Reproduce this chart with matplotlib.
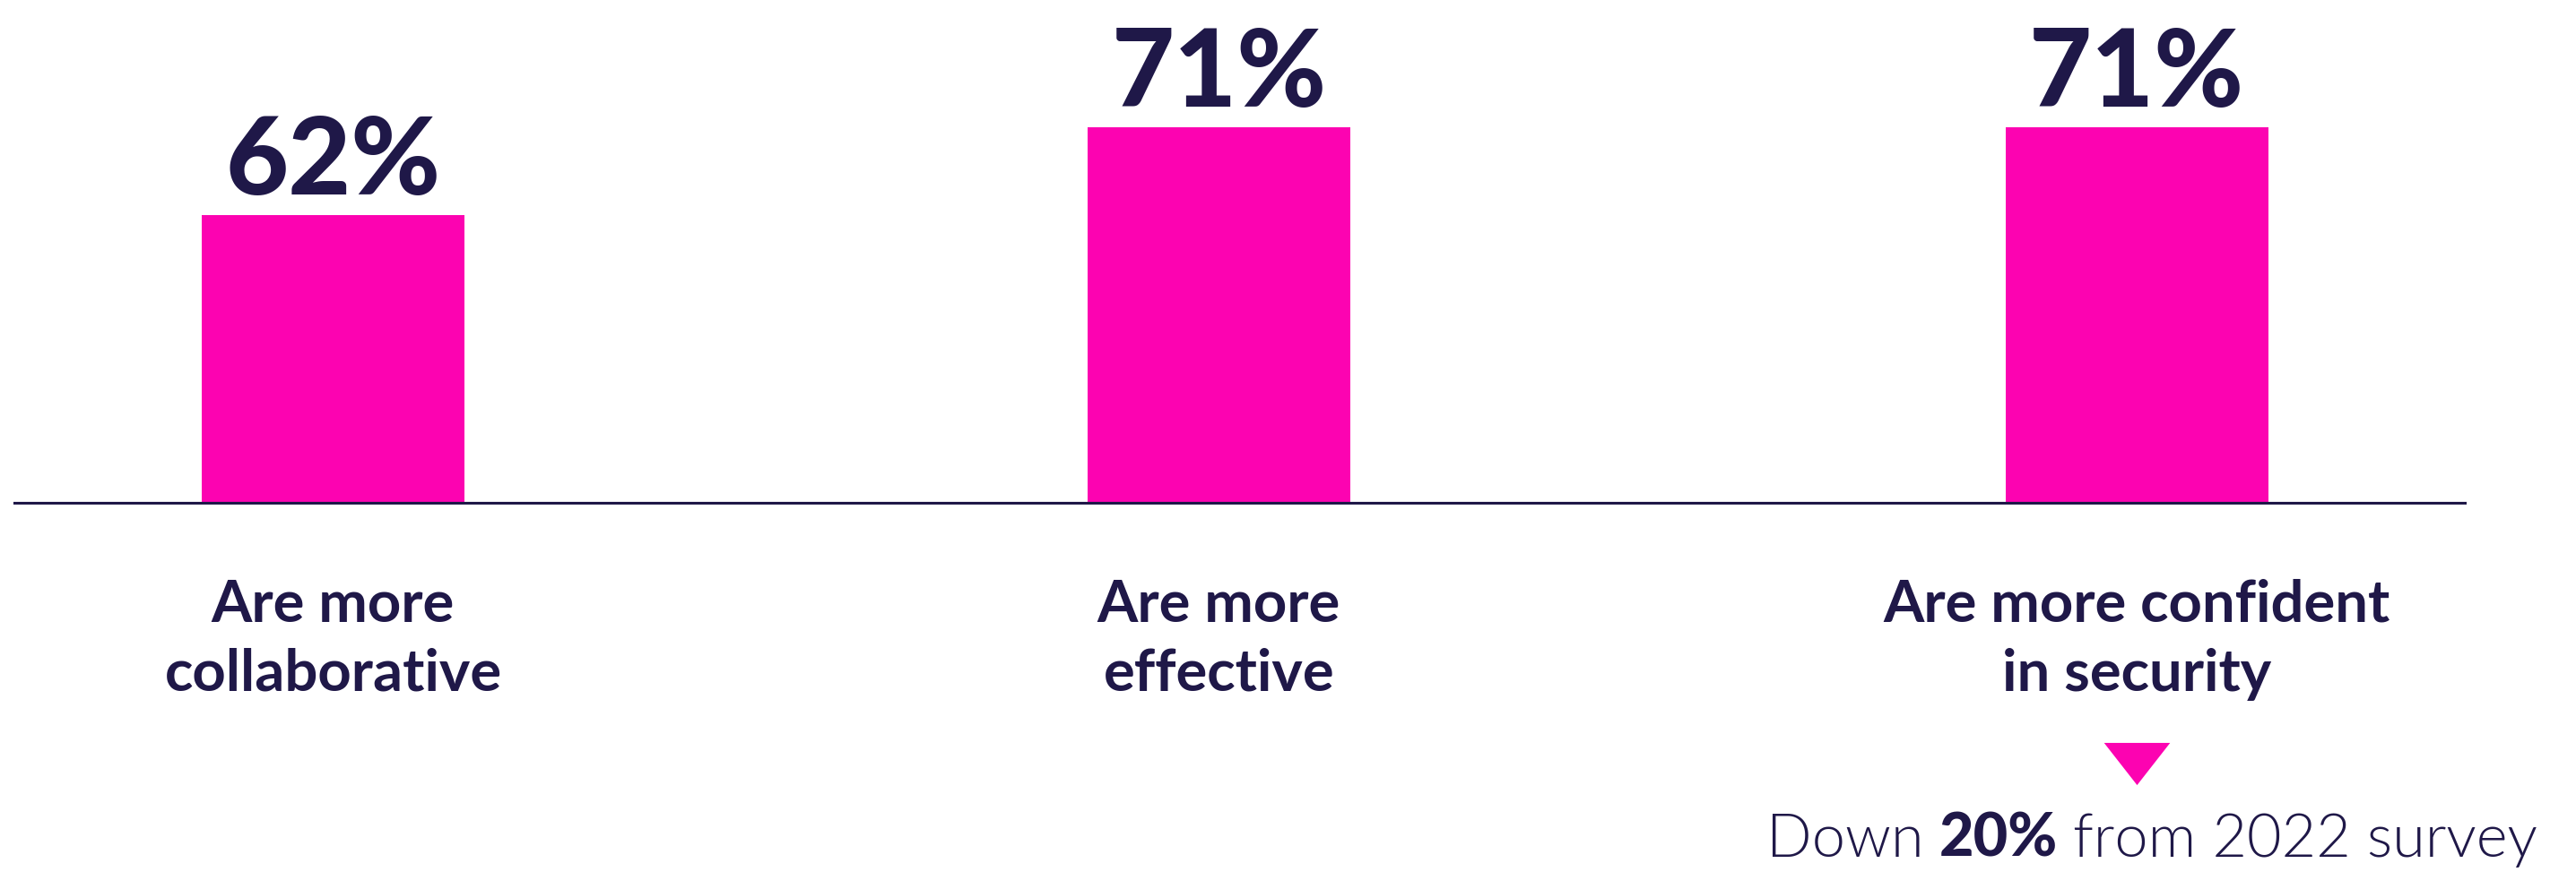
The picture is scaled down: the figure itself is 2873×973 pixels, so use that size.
import matplotlib
matplotlib.use('Agg')
import matplotlib.pyplot as plt
from matplotlib.offsetbox import TextArea, HPacker, AnnotationBbox

#  Chart data.
categories = ['Are more\ncollaborative', 'Are more\neffective', 'Are more confident\nin security']
shares = [62, 71, 71]
note_parts = ['Down', '20%', 'from 2022 survey']

#  Colours, font and bar slots (the third bar sits a little further out).
navy = '#1f1848'
pink = '#fc03b1'
font = 'Lato'
slots = [0, 1, 2.036]

fig = plt.figure(figsize=(28.73, 9.73), dpi=100)
ax = fig.add_axes([16 / 2873, 1 - 561 / 973, (2749 - 16) / 2873, 561 / 973])

#  Bars and their value labels.
bars = ax.bar(slots, shares, width=0.2966, color=pink, zorder=2)
ax.bar_label(bars, labels=['%d%%' % v for v in shares], padding=2,
			 fontsize=87, fontfamily=font, fontweight='black', color=navy)

ax.set_xlim(-0.3598, 2.4064)
ax.set_ylim(32.5, 84)

#  Only the baseline is kept.
for side in ['top', 'left', 'right']:
	ax.spines[side].set_visible(False)
ax.spines['bottom'].set_color(navy)
ax.spines['bottom'].set_linewidth(2.2)
ax.set_yticks([])
ax.set_xticks(slots)
ax.set_xticklabels(categories, fontsize=47, fontfamily=font, fontweight='bold',
				   color=navy, linespacing=1.38)
ax.tick_params(axis='x', length=0, pad=61)

#  Down marker under the third bar.
ax.scatter([slots[2]], [-0.518], transform=ax.get_xaxis_transform(), clip_on=False,
		   marker=[(-1, 0.64), (1, 0.64), (0, -0.64)], s=53 ** 2,
		   color=pink, linewidths=0)

#  Note line with one bold part.
boxes = []
for part in note_parts:
	weight = 'black' if '%' in part else 300
	boxes.append(TextArea(part, textprops=dict(fontsize=48, fontfamily=font,
											   fontweight=weight, color=navy)))
pack = HPacker(children=boxes, sep=12, pad=0, align='baseline')
note = AnnotationBbox(pack, (2.053, -0.725), xycoords=ax.get_xaxis_transform(),
					  box_alignment=(0.5, 0), frameon=False, pad=0,
					  annotation_clip=False)
ax.add_artist(note)

fig.savefig('out.png', dpi=100)
